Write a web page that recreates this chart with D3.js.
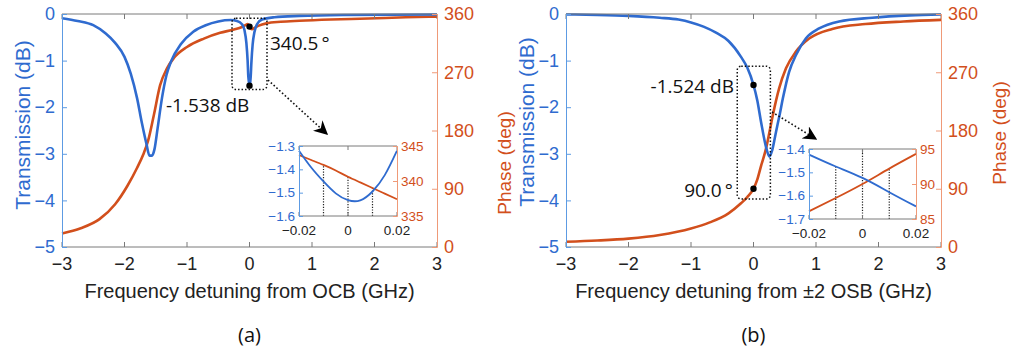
<!DOCTYPE html>
<html>
<head>
<meta charset="utf-8">
<script src="https://cdn.jsdelivr.net/npm/d3@7"></script>
<style>
  body { margin: 0; background: #fff; }
  svg { display: block; }
  text { font-family: "Liberation Sans", Arial, sans-serif; }
  .note { font-family: "Open Sans", "Noto Sans", sans-serif; }
</style>
</head>
<body>
<svg id="chart" width="1012" height="354"></svg>
<script>
// ---- data ----
// panel (a): detuning from OCB
const aTransX = [-3, -2.75, -2.5, -2.3, -2.15, -2, -1.9, -1.8, -1.72, -1.65, -1.6, -1.56, -1.52, -1.47, -1.4, -1.33, -1.25, -1.1, -0.9, -0.7, -0.5, -0.3, -0.2, -0.12, -0.08, -0.05, -0.03, -0.02, -0.01, 0, 0.01, 0.02, 0.03, 0.05, 0.08, 0.12, 0.2, 0.4, 0.8, 1.5, 3];
const aTrans = [-0.09, -0.15, -0.24, -0.42, -0.62, -0.92, -1.28, -1.8, -2.35, -2.78, -3.04, -3.04, -2.9, -2.45, -1.8, -1.32, -1.0, -0.65, -0.38, -0.24, -0.16, -0.13, -0.15, -0.22, -0.35, -0.62, -1.0, -1.32, -1.45, -1.538, -1.48, -1.33, -1.05, -0.66, -0.38, -0.22, -0.12, -0.07, -0.04, -0.02, -0.01];
const aPhaseX = [-3, -2.7, -2.4, -2.15, -1.95, -1.8, -1.7, -1.62, -1.53, -1.43, -1.32, -1.21, -1.0, -0.73, -0.47, -0.25, -0.12, -0.06, -0.03, -0.02, -0.01, 0, 0.01, 0.02, 0.04, 0.08, 0.15, 0.27, 0.5, 0.8, 1.3, 1.9, 2.5, 3];
const aPhase = [21, 29, 43, 66, 95, 122, 143, 165, 204, 250, 276, 292, 309, 322, 331, 336, 340, 343, 344.3, 343.7, 342.3, 340.6, 339, 337.4, 336.5, 338.5, 342, 345.5, 348, 349.6, 351.5, 353, 355, 356];
// inset (a)
const aZoomX = [-0.02, -0.015, -0.01, -0.005, 0, 0.005, 0.01, 0.015, 0.02];
const aZoomTrans = [-1.32, -1.392, -1.452, -1.503, -1.532, -1.533, -1.495, -1.425, -1.32];
const aZoomPhase = [343.7, 343.0, 342.3, 341.5, 340.6, 339.8, 339.0, 338.2, 337.4];

// panel (b): detuning from +-2 OSB
const bTransX = [-3, -2.5, -2, -1.5, -1.2, -1, -0.8, -0.6, -0.4, -0.2, -0.1, 0, 0.06, 0.12, 0.2, 0.255, 0.3, 0.36, 0.42, 0.47, 0.57, 0.68, 0.84, 1.05, 1.37, 1.9, 2.5, 3];
const bTrans = [-0.01, -0.02, -0.04, -0.08, -0.12, -0.18, -0.27, -0.4, -0.58, -0.92, -1.15, -1.524, -1.85, -2.31, -2.85, -3.06, -2.92, -2.53, -2.15, -1.81, -1.24, -0.88, -0.52, -0.31, -0.16, -0.08, -0.03, -0.01];
const bPhaseX = [-3, -2.5, -2, -1.5, -1, -0.7, -0.4, -0.2, -0.1, 0, 0.06, 0.12, 0.2, 0.25, 0.31, 0.41, 0.52, 0.68, 0.89, 1.26, 1.79, 2.4, 3];
const bPhase = [8, 10, 13, 18.5, 28.5, 38, 52, 67.5, 77, 90, 104, 125, 152, 175, 204, 245, 276, 302, 322, 337, 344.5, 348.5, 351];
// inset (b)
const bZoomX = [-0.02, -0.01, 0, 0.01, 0.02];
const bZoomTrans = [-1.424, -1.475, -1.524, -1.585, -1.646];
const bZoomPhase = [86.1, 88.0, 90.0, 92.2, 94.3];

// ticks
const xTicks = [-3, -2, -1, 0, 1, 2, 3];
const transTicks = [0, -1, -2, -3, -4, -5];
const phaseTicks = [0, 90, 180, 270, 360];
const zoomXTicks = [-0.02, 0, 0.02];
const zoomGuides = [-0.01, 0, 0.01];
const aZoomTransTicks = [-1.3, -1.4, -1.5, -1.6];
const aZoomPhaseTicks = [335, 340, 345];
const bZoomTransTicks = [-1.4, -1.5, -1.6, -1.7];
const bZoomPhaseTicks = [85, 90, 95];

const blue = "#2f6bcf", red = "#d24f1c", blueAxis = "#5d9be3", redAxis = "#ef9a78";

const svg = d3.select("#chart");

svg.append("defs").append("marker")
  .attr("id", "head").attr("viewBox", "0 0 10 10")
  .attr("refX", 9).attr("refY", 5)
  .attr("markerWidth", 14).attr("markerHeight", 14)
  .attr("markerUnits", "userSpaceOnUse")
  .attr("orient", "auto")
  .append("path").attr("d", "M0,0 L10,5 L0,10 L3,5 Z").attr("fill", "#000");

function frame(g, x, yl, yr, opt) {
  const [x0, x1] = x.range();
  const [y1, y0] = yl.range();
  const tl = opt.tick;
  // bottom + top box lines
  g.append("line").attr("x1", x0).attr("x2", x1).attr("y1", y1).attr("y2", y1).attr("stroke", "#7a7a7a");
  g.append("line").attr("x1", x0).attr("x2", x1).attr("y1", y0).attr("y2", y0).attr("stroke", "#7a7a7a");
  opt.xTicks.forEach(t => {
    g.append("line").attr("x1", x(t)).attr("x2", x(t)).attr("y1", y1).attr("y2", y1 - tl).attr("stroke", "#7a7a7a");
    g.append("line").attr("x1", x(t)).attr("x2", x(t)).attr("y1", y0).attr("y2", y0 + tl).attr("stroke", "#7a7a7a");
    g.append("text").attr("x", x(t)).attr("y", y1 + opt.xLabelDy)
      .attr("text-anchor", "middle").attr("font-size", opt.font).attr("fill", "#222")
      .text(opt.xFmt(t));
  });
  // left axis
  const left = g.append("g").attr("transform", `translate(${x0},0)`)
    .call(d3.axisLeft(yl).tickValues(opt.lTicks).tickSize(-tl).tickPadding(opt.pad).tickFormat(opt.lFmt));
  left.select(".domain").attr("stroke", blueAxis);
  left.selectAll(".tick line").attr("stroke", blueAxis);
  left.selectAll("text").attr("fill", blue).attr("font-size", opt.font).attr("font-family", "Liberation Sans, Arial, sans-serif");
  const right = g.append("g").attr("transform", `translate(${x1},0)`)
    .call(d3.axisRight(yr).tickValues(opt.rTicks).tickSize(-tl).tickPadding(opt.pad));
  right.select(".domain").attr("stroke", redAxis);
  right.selectAll(".tick line").attr("stroke", redAxis);
  right.selectAll("text").attr("fill", red).attr("font-size", opt.font).attr("font-family", "Liberation Sans, Arial, sans-serif");
}

function curve(g, x, y, xs, ys, color, w, kind) {
  const line = d3.line().x(d => x(d[0])).y(d => y(d[1])).curve(kind || d3.curveMonotoneX);
  g.append("path").datum(d3.zip(xs, ys)).attr("d", line)
    .attr("fill", "none").attr("stroke", color).attr("stroke-width", w);
}

function panel(p) {
  const g = svg.append("g");
  const x = d3.scaleLinear().domain([-3, 3]).range([p.left, p.left + 375]);
  const yT = d3.scaleLinear().domain([-5, 0]).range([247, 14]);
  const yP = d3.scaleLinear().domain([0, 360]).range([247, 14]);

  curve(g, x, yP, p.phaseX, p.phase, red, 2.6);
  curve(g, x, yT, p.transX, p.trans, blue, 2.6);

  frame(g, x, yT, yP, {
    tick: 5, font: 18, pad: 7, xLabelDy: 23,
    xTicks: xTicks, xFmt: d3.format("d"),
    lTicks: transTicks, lFmt: d3.format("d"), rTicks: phaseTicks
  });

  g.append("text").attr("transform", `translate(${p.tLabelX},${p.tLabelY}) rotate(-90)`)
    .attr("text-anchor", "middle").attr("font-size", 21).attr("fill", blue).text("Transmission (dB)");
  g.append("text").attr("transform", `translate(${p.pLabelX},${p.pLabelY}) rotate(-90)`)
    .attr("text-anchor", "middle").attr("font-size", 19).attr("fill", red).text("Phase (deg)");
  g.append("text").attr("x", x(0)).attr("y", 298).attr("text-anchor", "middle")
    .attr("font-size", 20).attr("fill", "#222").text(p.xLabel);
  g.append("text").attr("class", "note").attr("x", x(0)).attr("y", 342).attr("text-anchor", "middle")
    .attr("font-size", 20).attr("fill", "#111").text(p.tag);

  // dotted marker box around the operating point
  const bx = p.box;
  g.append("rect").attr("x", x(bx[0])).attr("y", yT(bx[3]))
    .attr("width", x(bx[1]) - x(bx[0])).attr("height", yT(bx[2]) - yT(bx[3]))
    .attr("rx", 4).attr("fill", "none").attr("stroke", "#111")
    .attr("stroke-width", 1.5).attr("stroke-dasharray", "1.5,2");
  g.append("circle").attr("cx", x(0)).attr("cy", yT(p.dotT)).attr("r", 3.2).attr("fill", "#000");
  g.append("circle").attr("cx", x(0)).attr("cy", yP(p.dotP)).attr("r", 3.2).attr("fill", "#000");
  p.notes.forEach(n => {
    g.append("text").attr("class", "note").attr("x", n.x).attr("y", n.y)
      .attr("text-anchor", n.anchor).attr("font-size", 19).attr("fill", "#111").text(n.text);
  });
  g.append("line").attr("x1", p.arrow[0]).attr("y1", p.arrow[1]).attr("x2", p.arrow[2]).attr("y2", p.arrow[3])
    .attr("stroke", "#111").attr("stroke-width", 1.6).attr("stroke-dasharray", "1.6,2.2")
    .attr("marker-end", "url(#head)");

  // inset
  const ig = svg.append("g");
  const ix = d3.scaleLinear().domain([-0.02, 0.02]).range([p.inset[0], p.inset[1]]);
  const iyT = d3.scaleLinear().domain(p.iTransDom).range([p.inset[3], p.inset[2]]);
  const iyP = d3.scaleLinear().domain(p.iPhaseDom).range([p.inset[3], p.inset[2]]);
  ig.append("rect").attr("x", p.inset[0]).attr("y", p.inset[2])
    .attr("width", p.inset[1] - p.inset[0]).attr("height", p.inset[3] - p.inset[2]).attr("fill", "#fff");
  zoomGuides.forEach((t, k) => {
    const i = p.zoomX.indexOf(t);
    const top = p.guideFull[k] ? p.inset[2] : Math.min(iyT(p.zoomTrans[i]), iyP(p.zoomPhase[i]));
    ig.append("line").attr("x1", ix(t)).attr("x2", ix(t)).attr("y1", p.inset[3]).attr("y2", top)
      .attr("stroke", "#222").attr("stroke-width", 1.2).attr("stroke-dasharray", "1.2,1.5");
  });
  curve(ig, ix, iyP, p.zoomX, p.zoomPhase, red, 1.8, d3.curveNatural);
  curve(ig, ix, iyT, p.zoomX, p.zoomTrans, blue, 1.8, d3.curveNatural);
  frame(ig, ix, iyT, iyP, {
    tick: 4, font: 13.5, pad: 4, xLabelDy: 19,
    xTicks: zoomXTicks, xFmt: t => t === 0 ? "0" : d3.format(".2f")(t),
    lTicks: p.iTransTicks, lFmt: d3.format(".1f"), rTicks: p.iPhaseTicks
  });
}

panel({
  left: 62, tag: "(a)", xLabel: "Frequency detuning from OCB (GHz)",
  transX: aTransX, trans: aTrans, phaseX: aPhaseX, phase: aPhase,
  tLabelX: 30, tLabelY: 125, pLabelX: 511, pLabelY: 163,
  box: [-0.28, 0.28, -1.62, -0.09], dotT: -1.538, dotP: 340.5,
  notes: [{ x: 270, y: 50, anchor: "start", text: "340.5\u2009\u00b0" },
          { x: 166, y: 112, anchor: "start", text: "-1.538 dB" }],
  arrow: [268, 80, 327, 134],
  inset: [299, 397, 146, 216], iTransDom: [-1.6, -1.3], iPhaseDom: [335, 345],
  iTransTicks: aZoomTransTicks, iPhaseTicks: aZoomPhaseTicks,
  zoomX: aZoomX, zoomTrans: aZoomTrans, zoomPhase: aZoomPhase, guideFull: [false, false, false]
});

panel({
  left: 566, tag: "(b)", xLabel: "Frequency detuning from \u00b12 OSB (GHz)",
  transX: bTransX, trans: bTrans, phaseX: bPhaseX, phase: bPhase,
  tLabelX: 534, tLabelY: 122, pLabelX: 1006, pLabelY: 133,
  box: [-0.26, 0.27, -3.97, -1.12], dotT: -1.524, dotP: 90,
  notes: [{ x: 734, y: 93, anchor: "end", text: "-1.524 dB" },
          { x: 733, y: 197, anchor: "end", text: "90.0\u2009\u00b0" }],
  arrow: [772, 112, 816, 139],
  inset: [809, 916, 149, 219], iTransDom: [-1.7, -1.4], iPhaseDom: [85, 95],
  iTransTicks: bZoomTransTicks, iPhaseTicks: bZoomPhaseTicks,
  zoomX: bZoomX, zoomTrans: bZoomTrans, zoomPhase: bZoomPhase, guideFull: [false, true, false]
});
</script>
</body>
</html>
